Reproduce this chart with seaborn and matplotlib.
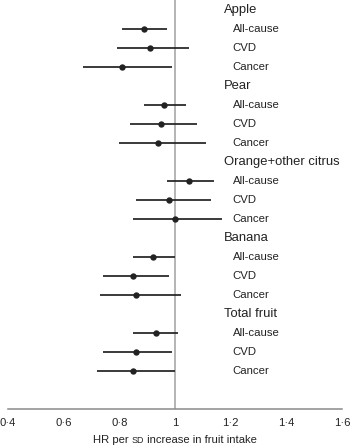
import matplotlib
matplotlib.use("Agg")
import matplotlib.pyplot as plt
import numpy as np
import pandas as pd
import seaborn as sns

fruits = ["Apple", "Pear", "Orange+other citrus", "Banana", "Total fruit"]
outcomes = ["All-cause", "CVD", "Cancer"]
hr = [0.89, 0.91, 0.81,
      0.96, 0.95, 0.94,
      1.05, 0.98, 1.00,
      0.92, 0.85, 0.86,
      0.93, 0.86, 0.85]
lower = [0.81, 0.79, 0.67,
         0.89, 0.84, 0.80,
         0.97, 0.86, 0.85,
         0.85, 0.74, 0.73,
         0.85, 0.74, 0.72]
upper = [0.97, 1.05, 0.99,
         1.04, 1.08, 1.11,
         1.14, 1.13, 1.17,
         1.00, 0.98, 1.02,
         1.01, 0.99, 1.00]
xticks = [0.4, 0.6, 0.8, 1.0, 1.2, 1.4, 1.6]
xticklabels = ["0·4", "0·6", "0·8", "1", "1·2", "1·4", "1·6"]

# one header row per fruit, then a row per outcome
rows = []
for i, f in enumerate(fruits):
    for j, o in enumerate(outcomes):
        k = i * 3 + j
        rows.append({"fruit": f, "outcome": o, "row": i * 4 + j + 1,
                     "hr": hr[k], "lower": lower[k], "upper": upper[k]})
df = pd.DataFrame(rows)

sns.set_theme(style="white")
plt.rcParams["font.family"] = ["Liberation Sans", "DejaVu Sans"]

fig = plt.figure(figsize=(3.5, 4.47), dpi=100)
ax = fig.add_axes([8 / 350, 1 - 408.5 / 447, 334 / 350, 408.5 / 447])

ink = "#222222"
grey = "#a0a0a0"

ax.axvline(1.0, color=grey, lw=1.1, zorder=1)
ax.hlines(df["row"], df["lower"], df["upper"], color=ink, lw=1.25, zorder=2)
sns.scatterplot(data=df, x="hr", y="row", ax=ax, color=ink, s=21,
                edgecolor=ink, linewidth=0, zorder=3, legend=False)

for i, f in enumerate(fruits):
    ax.text(1.175, i * 4, f, fontsize=9.4, color=ink, va="center", ha="left")
for _, r in df.iterrows():
    ax.text(1.207, r["row"], r["outcome"], fontsize=8.2, color=ink,
            va="center", ha="left")

ax.set_xlim(0.4, 1.6)
ax.set_ylim(20.95, -0.53)
ax.set_yticks([])
ax.set_xticks(xticks)
ax.set_xticklabels(xticklabels, fontsize=8.1, color=ink)
ax.tick_params(axis="x", length=0, pad=7)
ax.set_xlabel("")
ax.set_ylabel("")
for s in ["top", "left", "right"]:
    ax.spines[s].set_visible(False)
ax.spines["bottom"].set_color("#8a8a8a")
ax.spines["bottom"].set_linewidth(1.1)

# x label with small-caps "SD"
fig.canvas.draw()
renderer = fig.canvas.get_renderer()
parts = [("HR per ", 8.1), ("SD", 6.4), (" increase in fruit intake", 8.1)]
texts = []
for s, size in parts:
    texts.append(fig.text(0, 0, s, fontsize=size, color=ink, ha="left",
                          va="baseline"))
widths = [t.get_window_extent(renderer).width for t in texts]
total = sum(widths)
x0 = (93 + 164 / 2) - total / 2
for t, w in zip(texts, widths):
    t.set_position((x0 / 350, 1 - 443 / 447))
    x0 += w

fig.savefig("out.png", dpi=100)
